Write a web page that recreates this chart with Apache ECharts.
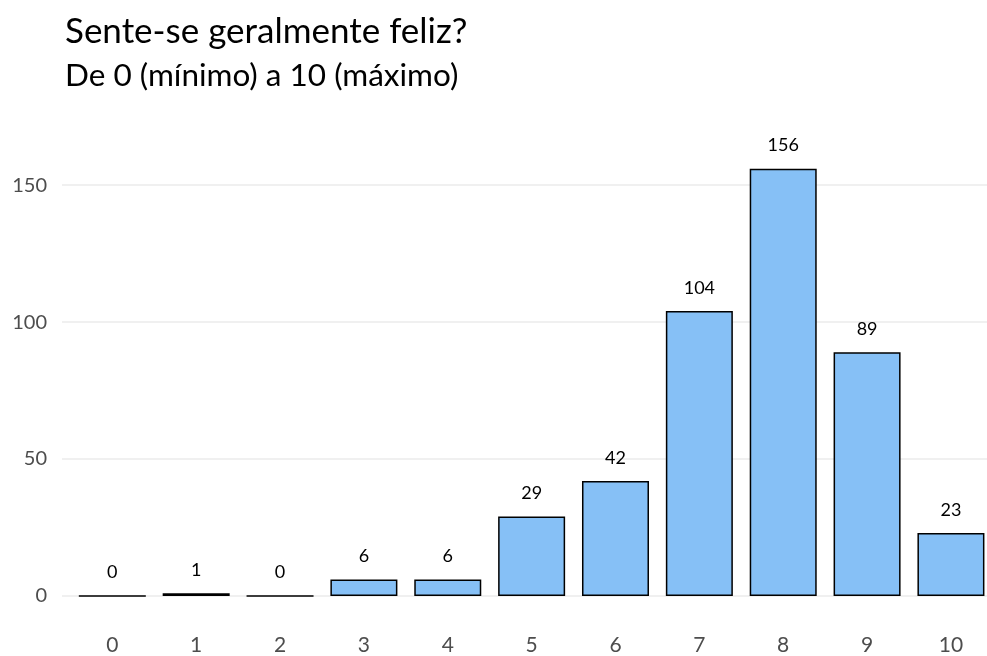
<!DOCTYPE html>
<html>
<head>
<meta charset="utf-8">
<script src="https://cdn.jsdelivr.net/npm/echarts@6/dist/echarts.min.js"></script>
<style>
  html, body { margin: 0; padding: 0; background: #fff; }
  #chart { width: 987px; height: 656px; }
</style>
</head>
<body>
<div id="chart"></div>
<script>
// escala 0 a 10 e contagens
var scores = [0, 1, 2, 3, 4, 5, 6, 7, 8, 9, 10];
var counts = [0, 1, 0, 6, 6, 29, 42, 104, 156, 89, 23];
var yTicks = [0, 50, 100, 150];

var FONT = 'Lato';

var barData = [];
for (var i = 0; i < scores.length; i++) {
    barData.push([scores[i], counts[i]]);
}

var myChart = echarts.init(document.getElementById('chart'));

var option = {
    animation: false,
    backgroundColor: '#ffffff',
    title: {
        text: 'Sente-se geralmente feliz?',
        subtext: 'De 0 (mínimo) a 10 (máximo)',
        left: 60,
        top: 9,
        itemGap: 11,
        textStyle: { fontFamily: FONT, fontSize: 35, fontWeight: 'normal', color: '#000' },
        subtextStyle: { fontFamily: FONT, fontSize: 31.5, color: '#000' }
    },
    grid: { left: 62, right: 0, top: 144, bottom: 59 },
    xAxis: {
        type: 'value',
        min: -0.6,
        max: 10.43,
        axisLine: { show: false },
        axisTick: { show: false, customValues: scores },
        splitLine: { show: false },
        axisLabel: {
            customValues: scores,
            margin: 39,
            fontFamily: FONT,
            fontSize: 21,
            color: '#4d4d4d'
        }
    },
    yAxis: {
        type: 'value',
        min: 0,
        max: 165,
        interval: 50,
        axisLine: { show: false },
        axisTick: { show: false, customValues: yTicks },
        splitLine: { lineStyle: { color: '#ebebeb', width: 1.5 } },
        axisLabel: {
            customValues: yTicks,
            margin: 15,
            fontFamily: FONT,
            fontSize: 20,
            color: '#4d4d4d'
        }
    },
    series: [{
        type: 'bar',
        data: barData,
        barWidth: 67,
        itemStyle: { color: '#86c0f6', borderColor: '#000', borderWidth: 1.5 },
        label: {
            show: true,
            position: 'top',
            distance: 14,
            fontFamily: FONT,
            fontSize: 18,
            color: '#000'
        }
    }]
};

myChart.setOption(option);
</script>
</body>
</html>
